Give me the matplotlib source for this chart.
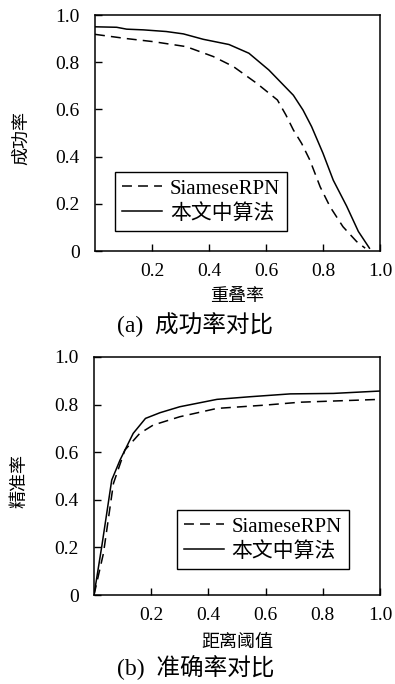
import matplotlib
matplotlib.use("Agg")
import matplotlib.pyplot as plt

plt.rcParams['font.family'] = ['Liberation Serif', 'Noto Sans CJK SC']
plt.rcParams['axes.linewidth'] = 1.1

# (a) success rate vs overlap
succ_x_ours = [0.0, 0.076, 0.111, 0.17, 0.25, 0.31, 0.38, 0.47, 0.54, 0.61, 0.696, 0.73, 0.76, 0.80, 0.836, 0.883, 0.924, 0.963]
succ_y_ours = [0.95, 0.948, 0.94, 0.937, 0.93, 0.92, 0.897, 0.875, 0.838, 0.767, 0.66, 0.597, 0.527, 0.414, 0.30, 0.19, 0.083, 0.012]
succ_x_rpn = [0.0, 0.111, 0.205, 0.32, 0.415, 0.485, 0.567, 0.64, 0.67, 0.696, 0.725, 0.754, 0.79, 0.825, 0.87, 0.918, 0.948]
succ_y_rpn = [0.918, 0.90, 0.887, 0.866, 0.824, 0.782, 0.711, 0.64, 0.576, 0.513, 0.456, 0.385, 0.272, 0.187, 0.103, 0.04, 0.012]

# (b) precision vs distance threshold
prec_x_ours = [0.0, 0.027, 0.062, 0.091, 0.137, 0.18, 0.231, 0.30, 0.43, 0.545, 0.686, 0.837, 1.0]
prec_y_ours = [0.0, 0.203, 0.483, 0.567, 0.679, 0.742, 0.766, 0.791, 0.822, 0.833, 0.845, 0.847, 0.857]
prec_x_rpn = [0.0, 0.033, 0.068, 0.108, 0.16, 0.207, 0.30, 0.43, 0.60, 0.72, 1.0]
prec_y_rpn = [0.0, 0.175, 0.469, 0.609, 0.679, 0.714, 0.749, 0.784, 0.798, 0.81, 0.822]

labels = ['SiameseRPN', '本文中算法']
yticks = [0, 0.2, 0.4, 0.6, 0.8, 1.0]
yticklabels = ['0', '0.2', '0.4', '0.6', '0.8', '1.0']
xticks = [0.2, 0.4, 0.6, 0.8, 1.0]
xticklabels = ['0.2', '0.4', '0.6', '0.8', '1.0']

W, H = 395, 684
fig = plt.figure(figsize=(W / 100, H / 100), dpi=100)

def px_axes(l, t, r, b):
    return fig.add_axes([l / W, 1 - b / H, (r - l) / W, (b - t) / H])

ax1 = px_axes(95, 15, 380, 251)
ax2 = px_axes(94, 357, 380, 595)

panels = [
    (ax1, succ_x_rpn, succ_y_rpn, succ_x_ours, succ_y_ours, '成功率', '重叠率', '(a)  成功率对比', (0.07, 0.085), 325, -0.157),
    (ax2, prec_x_rpn, prec_y_rpn, prec_x_ours, prec_y_ours, '精准率', '距离阈值', '(b)  准确率对比', (0.29, 0.109), 668, -0.164),
]

for ax, xr, yr, xo, yo, ylab, xlab, cap, lpos, capy, xlaby in panels:
    ax.plot(xr, yr, color='black', lw=1.1, dashes=(6.5, 4), label=labels[0])
    ax.plot(xo, yo, color='black', lw=1.1, label=labels[1])
    ax.set_xlim(0, 1.0)
    ax.set_ylim(0, 1.0)
    ax.set_yticks(yticks)
    ax.set_yticklabels(yticklabels)
    ax.set_xticks(xticks)
    ax.set_xticklabels(xticklabels)
    ax.tick_params(direction='in', length=5, width=1.0, labelsize=14, pad=9)
    ax.tick_params(axis='y', pad=11)
    ax.set_ylabel(ylab, fontsize=13)
    ax.yaxis.set_label_coords(-0.228, 0.48)
    ax.set_xlabel(xlab, fontsize=13)
    ax.xaxis.set_label_coords(0.5, xlaby)
    leg = ax.legend(loc='lower left', bbox_to_anchor=lpos, borderaxespad=0,
                    fontsize=15, fancybox=False, framealpha=1, edgecolor='black',
                    handlelength=1.9, handletextpad=0.38, labelspacing=0.25,
                    borderpad=0.35)
    leg.get_frame().set_linewidth(1.0)
    fig.text(117 / W, 1 - capy / H, cap, fontsize=17, ha='left', va='center')

fig.savefig('out.png', dpi=100)
